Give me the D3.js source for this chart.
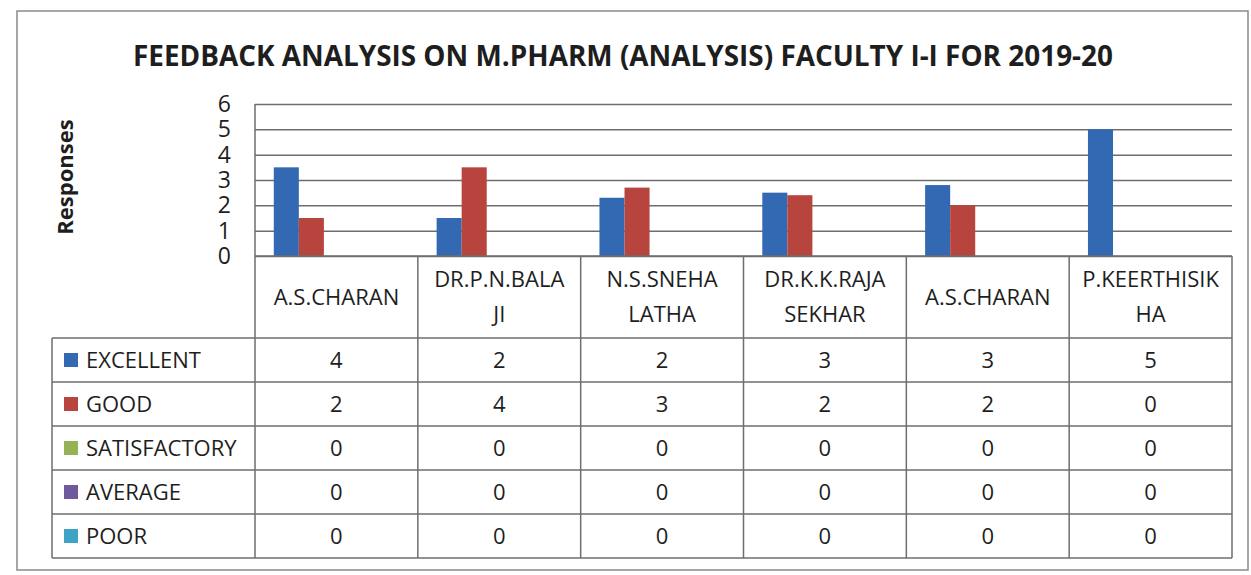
<!DOCTYPE html>
<html>
<head>
<meta charset="utf-8">
<script src="https://cdn.jsdelivr.net/npm/d3@7"></script>
<style>
  body { margin: 0; background: #fff; }
  text { font-family: "Open Sans", "Noto Sans", sans-serif; fill: #1e1e1e; }
</style>
</head>
<body>
<script>
// data
var categories = ["A.S.CHARAN", "DR.P.N.BALAJI", "N.S.SNEHA LATHA", "DR.K.K.RAJA SEKHAR", "A.S.CHARAN", "P.KEERTHISIKHA"];
var headerLines = [["A.S.CHARAN"], ["DR.P.N.BALA", "JI"], ["N.S.SNEHA", "LATHA"], ["DR.K.K.RAJA", "SEKHAR"], ["A.S.CHARAN"], ["P.KEERTHISIK", "HA"]];
var seriesNames = ["EXCELLENT", "GOOD", "SATISFACTORY", "AVERAGE", "POOR"];
var excellent = [3.5, 1.5, 2.3, 2.5, 2.8, 5];
var good = [1.5, 3.5, 2.7, 2.4, 2.0, 0];
var satisfactory = [0, 0, 0, 0, 0, 0];
var average = [0, 0, 0, 0, 0, 0];
var poor = [0, 0, 0, 0, 0, 0];
var yTicks = [0, 1, 2, 3, 4, 5, 6];
var colors = ["#3369b3", "#b8443e", "#93b356", "#6e5a9c", "#3ea3c4"];

var series = [excellent, good, satisfactory, average, poor];

var width = 1251, height = 575;
var plotLeft = 255, plotRight = 1232, plotTop = 104, plotBottom = 256;
var tableBottom = 558, headerBottom = 338, legendLeft = 52;

var svg = d3.select("body").append("svg")
    .attr("width", width)
    .attr("height", height);

// outer chart border
svg.append("rect")
    .attr("x", 17).attr("y", 11)
    .attr("width", 1231).attr("height", 559)
    .attr("fill", "none")
    .attr("stroke", "#8a8a8a")
    .attr("stroke-width", 1.5);

// title
svg.append("text")
    .attr("x", 623).attr("y", 66)
    .attr("text-anchor", "middle")
    .attr("font-size", 29)
    .attr("font-weight", "bold")
    .attr("textLength", 980)
    .attr("lengthAdjust", "spacingAndGlyphs")
    .text("FEEDBACK ANALYSIS ON M.PHARM (ANALYSIS) FACULTY I-I FOR 2019-20");

var x = d3.scaleBand().domain(d3.range(categories.length)).range([plotLeft, plotRight]);
var xSub = d3.scaleBand().domain(d3.range(seriesNames.length))
    .range([0, x.bandwidth()]).paddingInner(0).paddingOuter(0.75);
var y = d3.scaleLinear().domain([0, 6]).range([plotBottom, plotTop]);

// gridlines + tick labels
var yAxis = svg.append("g")
    .attr("transform", "translate(" + plotLeft + ",0)")
    .call(d3.axisLeft(y).tickValues(yTicks).tickFormat(d3.format("d"))
      .tickSize(-(plotRight - plotLeft)).tickPadding(24));
yAxis.select(".domain").remove();
yAxis.selectAll(".tick line").attr("stroke", "#6e6e6e").attr("stroke-width", 1.5);
yAxis.selectAll(".tick text")
    .attr("font-size", 23)
    .attr("font-family", "Open Sans, sans-serif")
    .attr("fill", "#1e1e1e");

svg.append("line")
    .attr("x1", plotLeft).attr("x2", plotLeft)
    .attr("y1", plotTop).attr("y2", plotBottom)
    .attr("stroke", "#6e6e6e").attr("stroke-width", 1.5);

// axis title
svg.append("text")
    .attr("transform", "translate(73," + 177 + ") rotate(-90)")
    .attr("text-anchor", "middle")
    .attr("font-size", 22)
    .attr("font-weight", "bold")
    .text("Responses");

// bars
var groups = svg.append("g").selectAll("g")
    .data(series)
    .join("g")
    .attr("fill", function(d, i) { return colors[i]; });

groups.selectAll("rect")
    .data(function(d, i) { return d.map(function(v, j) { return {s: i, c: j, v: v}; }); })
    .join("rect")
    .attr("x", function(d) { return x(d.c) + xSub(d.s); })
    .attr("y", function(d) { return y(d.v); })
    .attr("width", xSub.bandwidth())
    .attr("height", function(d) { return plotBottom - y(d.v); });

// data table
var rows = d3.scaleBand().domain(d3.range(seriesNames.length)).range([headerBottom, tableBottom]);
var table = svg.append("g")
    .attr("stroke", "#6e6e6e")
    .attr("stroke-width", 1.5);

// horizontal lines
table.append("line")
    .attr("x1", plotLeft).attr("x2", plotRight)
    .attr("y1", plotBottom).attr("y2", plotBottom);
rows.domain().forEach(function(r) {
  table.append("line")
      .attr("x1", legendLeft).attr("x2", plotRight)
      .attr("y1", rows(r)).attr("y2", rows(r));
});
table.append("line")
    .attr("x1", legendLeft).attr("x2", plotRight)
    .attr("y1", tableBottom).attr("y2", tableBottom);

// vertical lines
x.domain().forEach(function(c) {
  table.append("line")
      .attr("x1", x(c)).attr("x2", x(c))
      .attr("y1", plotBottom).attr("y2", tableBottom);
});
table.append("line")
    .attr("x1", plotRight).attr("x2", plotRight)
    .attr("y1", plotBottom).attr("y2", tableBottom);
table.append("line")
    .attr("x1", legendLeft).attr("x2", legendLeft)
    .attr("y1", headerBottom).attr("y2", tableBottom);

// category headers
var headers = svg.append("g").selectAll("text")
    .data(headerLines)
    .join("text")
    .attr("text-anchor", "middle")
    .attr("font-size", 22)
    .attr("transform", function(d, i) { return "translate(" + (x(i) + x.bandwidth() / 2) + "," + ((plotBottom + headerBottom) / 2) + ")"; });
headers.selectAll("tspan")
    .data(function(d) { return d; })
    .join("tspan")
    .attr("x", 0)
    .attr("y", function(d, i, nodes) { return (i - (nodes.length - 1) / 2) * 35; })
    .attr("dy", "0.35em")
    .text(function(d) { return d; });

// legend keys
var fmt = d3.format(".0f");
var legendRows = svg.append("g").selectAll("g")
    .data(seriesNames)
    .join("g")
    .attr("transform", function(d, i) { return "translate(0," + (rows(i) + rows.bandwidth() / 2) + ")"; });
legendRows.append("rect")
    .attr("x", 64).attr("y", -7)
    .attr("width", 14).attr("height", 14)
    .attr("fill", function(d, i) { return colors[i]; });
legendRows.append("text")
    .attr("x", 86).attr("dy", "0.35em")
    .attr("font-size", 22)
    .text(function(d) { return d; });

// values
legendRows.selectAll("text.val")
    .data(function(d, i) { return series[i]; })
    .join("text")
    .attr("class", "val")
    .attr("x", function(d, j) { return x(j) + x.bandwidth() / 2; })
    .attr("dy", "0.35em")
    .attr("text-anchor", "middle")
    .attr("font-size", 22)
    .text(function(d) { return fmt(d); });
</script>
</body>
</html>
